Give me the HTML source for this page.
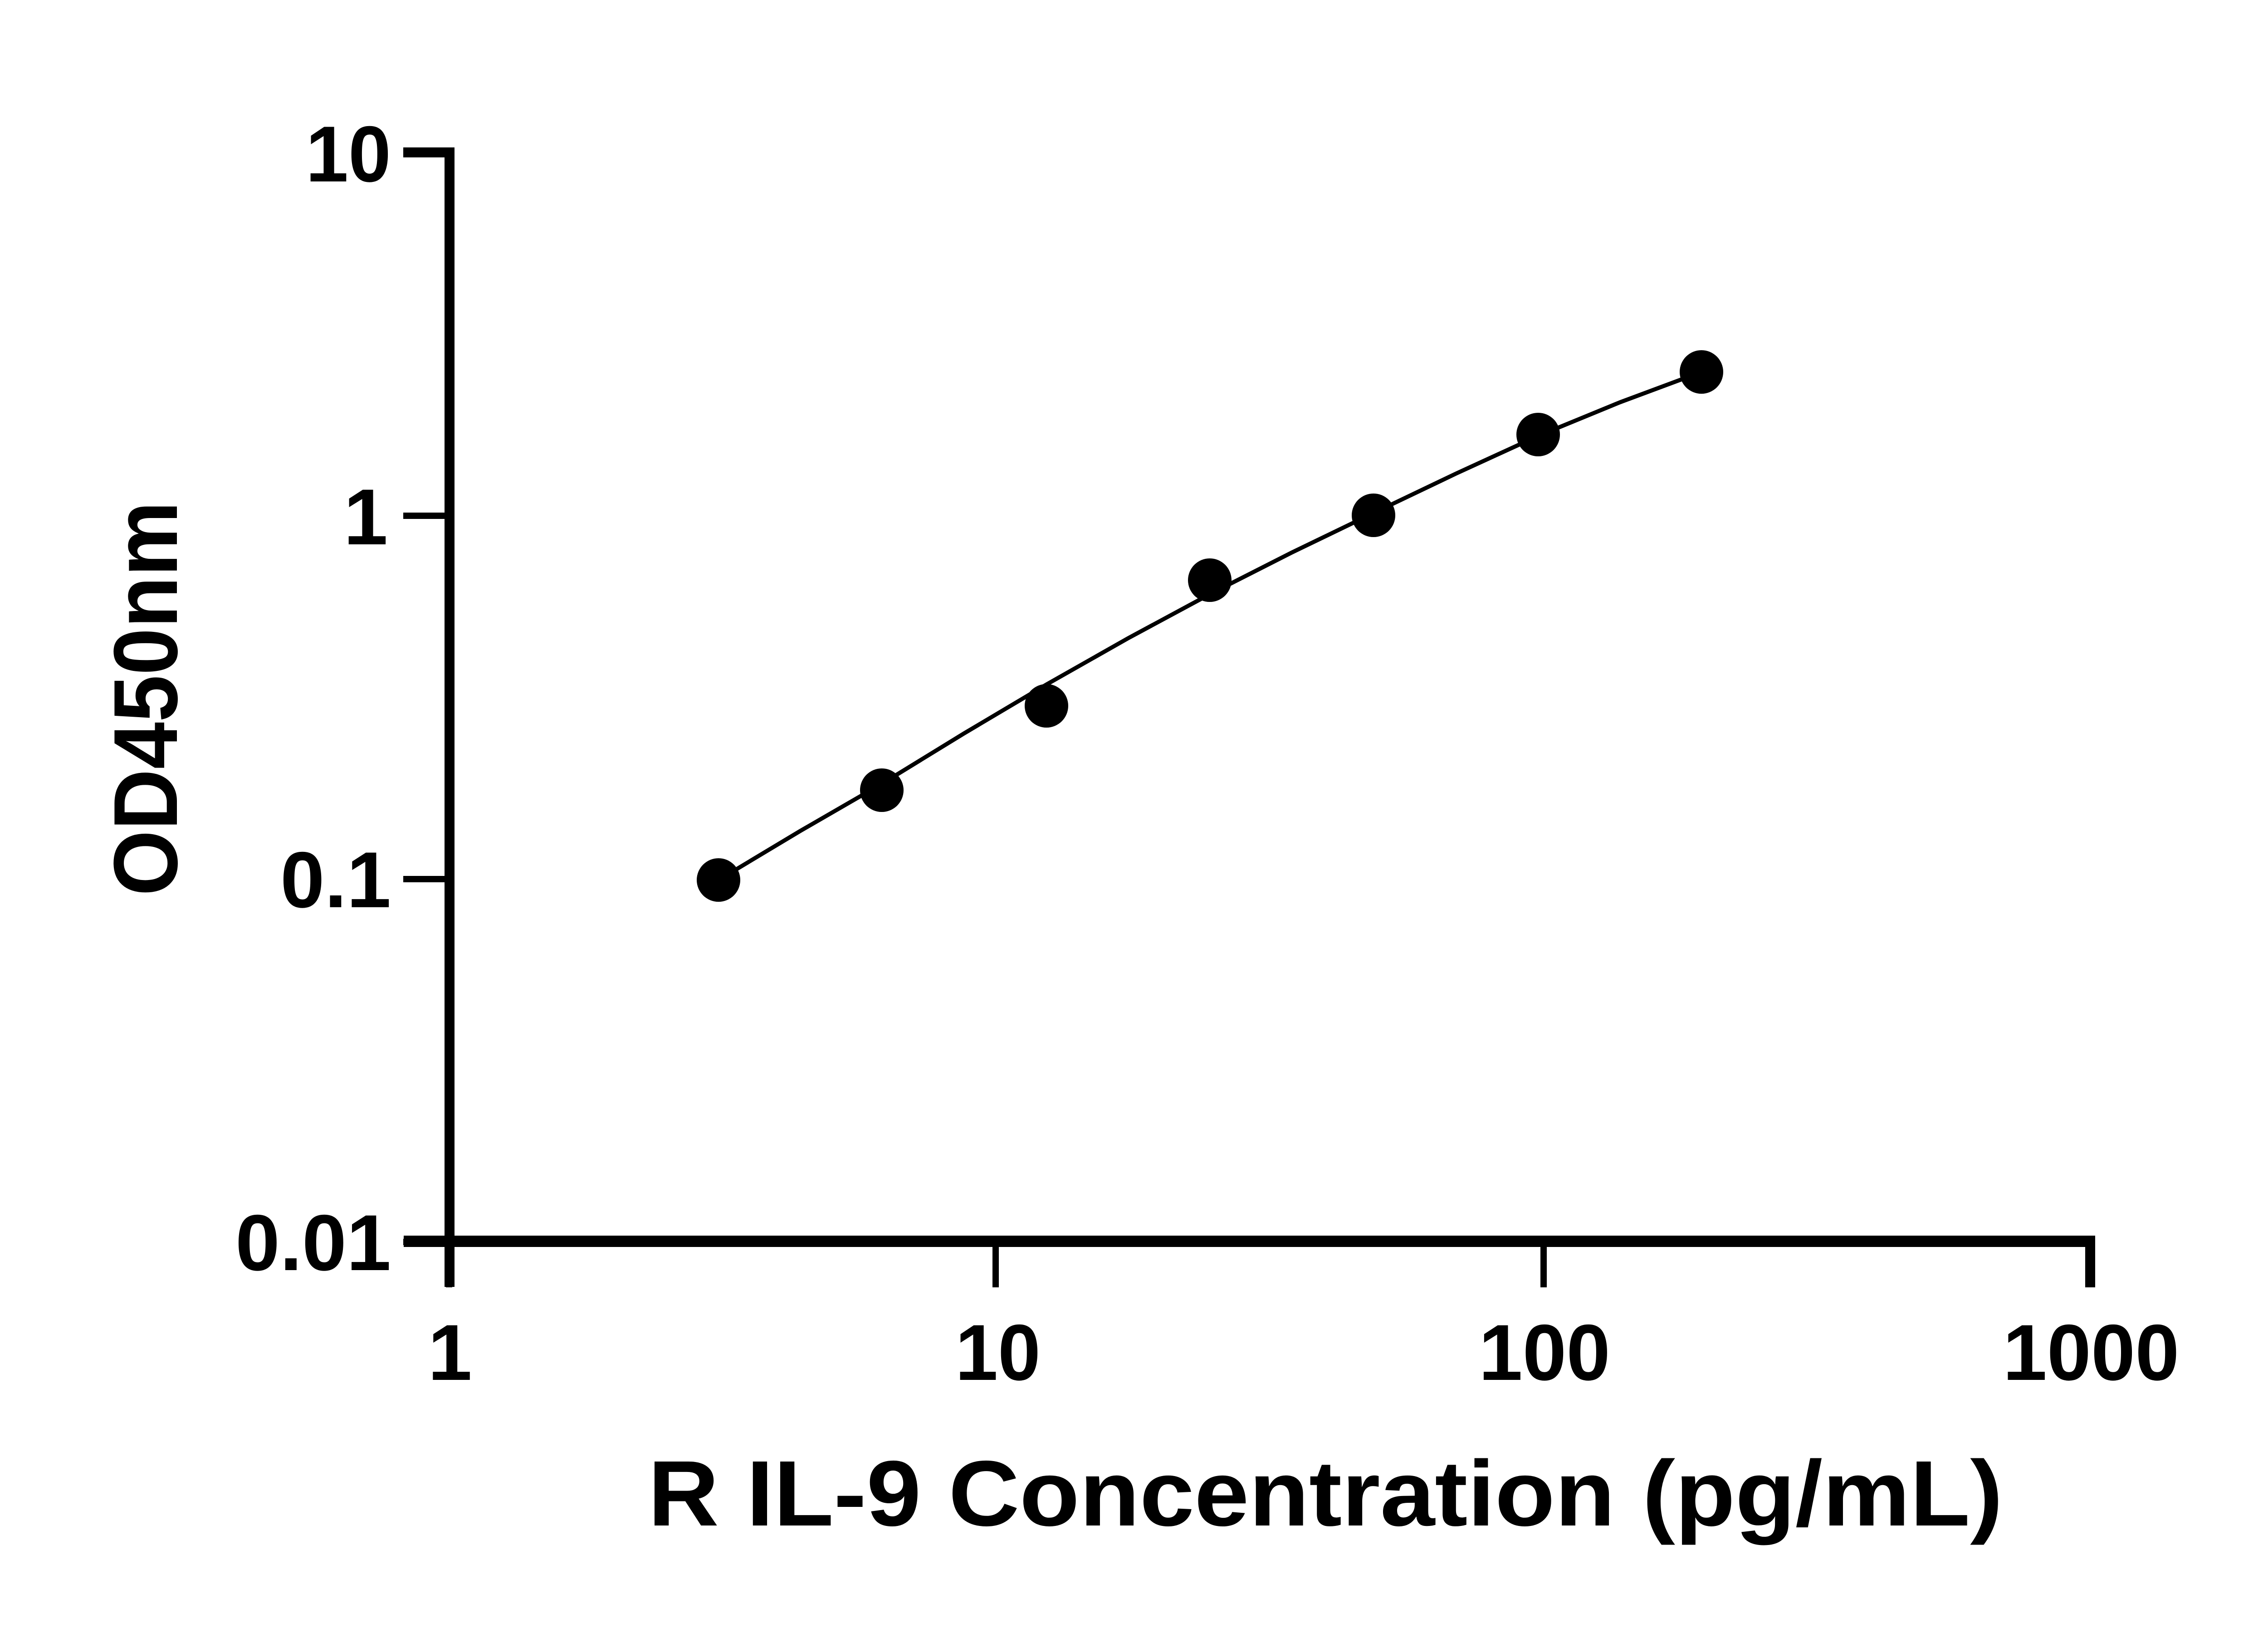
<!DOCTYPE html>
<html><head><meta charset="utf-8"><style>
html,body{margin:0;padding:0;background:#fff;}
svg{display:block;}
text{font-family:"Liberation Sans","DejaVu Sans",sans-serif;font-weight:bold;fill:#000;}
</style></head><body>
<svg width="5142" height="3600" viewBox="0 0 5142 3600" xmlns="http://www.w3.org/2000/svg">
<!-- y axis -->
<rect x="980" y="325" width="22" height="2512" fill="#000"/>
<rect x="889" y="325" width="113" height="22" fill="#000"/>
<rect x="889" y="1130" width="91" height="14" fill="#000"/>
<rect x="889" y="1931" width="91" height="14" fill="#000"/>
<rect x="889" y="2731" width="91" height="14" fill="#000"/>
<!-- x axis -->
<rect x="890" y="2724" width="3725" height="25" fill="#000"/>
<rect x="983" y="2724" width="14" height="114" fill="#000"/>
<rect x="2188" y="2724" width="14" height="114" fill="#000"/>
<rect x="3396" y="2724" width="14" height="114" fill="#000"/>
<rect x="4597" y="2724" width="22" height="114" fill="#000"/>
<!-- y tick labels -->
<g font-size="175" text-anchor="end">
<text x="862" y="400" textLength="188" lengthAdjust="spacingAndGlyphs">10</text>
<text x="855" y="1200">1</text>
<text x="862" y="2000" textLength="244" lengthAdjust="spacingAndGlyphs">0.1</text>
<text x="862" y="2800" textLength="343" lengthAdjust="spacingAndGlyphs">0.01</text>
</g>
<!-- x tick labels -->
<g font-size="175" text-anchor="middle">
<text x="992" y="3042">1</text>
<text x="2200" y="3042" textLength="188" lengthAdjust="spacingAndGlyphs">10</text>
<text x="3405" y="3042" textLength="290" lengthAdjust="spacingAndGlyphs">100</text>
<text x="4610" y="3042" textLength="389" lengthAdjust="spacingAndGlyphs">1000</text>
</g>
<text x="2922" y="3363" font-size="205" text-anchor="middle" textLength="2987" lengthAdjust="spacingAndGlyphs">R IL-9 Concentration (pg/mL)</text>
<text transform="translate(390,1540) rotate(-90)" font-size="200" text-anchor="middle" textLength="870" lengthAdjust="spacingAndGlyphs">OD450nm</text>
<!-- curve -->
<polyline fill="none" stroke="#000" stroke-width="9" stroke-linejoin="round" points="1584,1940 1764,1832 1944,1728 2125,1617 2307,1509 2487,1407 2667,1310 2848,1218 3028,1131 3210,1044 3391,961 3571,887 3751,820"/>
<g fill="#000">
<circle cx="1584" cy="1940" r="48"/>
<circle cx="1944" cy="1742" r="48"/>
<circle cx="2307" cy="1556" r="48"/>
<circle cx="2667" cy="1279" r="48"/>
<circle cx="3028" cy="1136" r="48"/>
<circle cx="3391" cy="958" r="48"/>
<circle cx="3751" cy="820" r="48"/>
</g>
</svg>
</body></html>
